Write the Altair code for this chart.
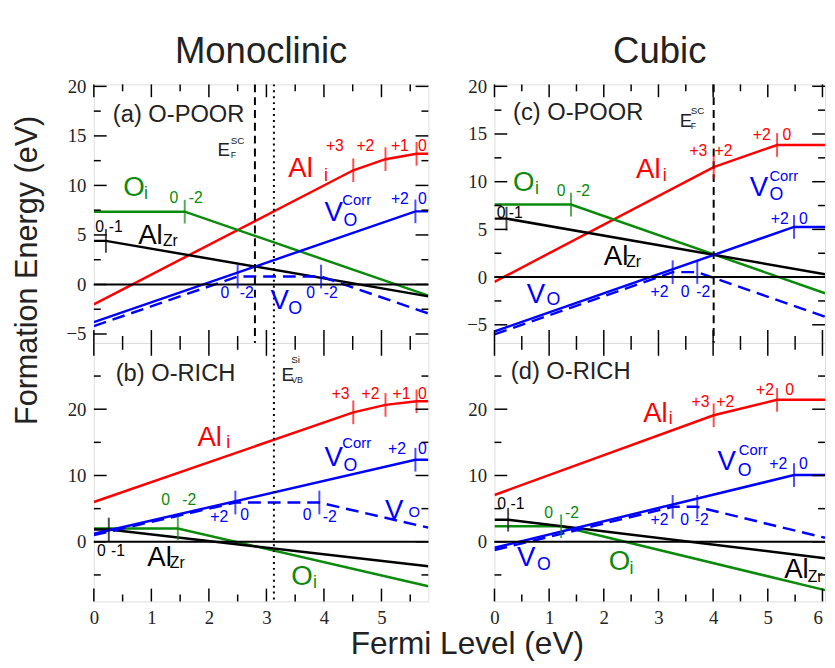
import altair as alt
import pandas as pd

SANS = "Liberation Sans"
SERIF = "Liberation Serif"
RED = "#ff0000"
GREEN = "#0b8a0b"
BLUE = "#0000ff"
BLK = "#000000"
TXT = "#222222"

XL = 5.815   # right end of monoclinic x range
XR = 6.047   # right end (visible) of cubic x range

# ---------------- Panel (a) Monoclinic, O-poor ----------------
a_ali_x = [0, 4.51, 5.07, 5.61, XL]
a_ali_y = [-2.0, 11.53, 12.65, 13.19, 13.19]
a_oi_x = [0, 1.58, XL]
a_oi_y = [7.35, 7.35, -1.12]
a_alzr_x = [0, 0.21, XL]
a_alzr_y = [4.4, 4.4, -1.2]
a_vc_x = [0, 5.59, XL]
a_vc_y = [-3.8, 7.38, 7.38]
a_vo_x = [0, 2.5, 3.95, XL]
a_vo_y = [-4.2, 0.8, 0.8, -2.93]

# ---------------- Panel (b) Monoclinic, O-rich ----------------
b_ali_x = [0, 4.51, 5.07, 5.61, XL]
b_ali_y = [6.0, 19.53, 20.65, 21.19, 21.19]
b_oi_x = [0, 1.46, XL]
b_oi_y = [2.0, 2.0, -6.71]
b_alzr_x = [0, 0.26, XL]
b_alzr_y = [1.85, 1.85, -3.7]
b_vc_x = [0, 5.59, XL]
b_vc_y = [1.2, 12.38, 12.38]
b_vo_x = [0, 2.46, 3.92, XL]
b_vo_y = [1.0, 5.92, 5.92, 2.13]

# ---------------- Panel (c) Cubic, O-poor ----------------
c_ali_x = [0, 4.01, 5.17, XR]
c_ali_y = [-0.5, 11.53, 13.85, 13.85]
c_oi_x = [0, 1.40, XR]
c_oi_y = [7.6, 7.6, -1.69]
c_alzr_x = [0, 0.22, XR]
c_alzr_y = [6.13, 6.13, 0.30]
c_vc_x = [0, 5.48, XR]
c_vc_y = [-5.7, 5.26, 5.26]
c_vo_x = [0, 3.26, 3.71, XR]
c_vo_y = [-6.0, 0.52, 0.52, -4.15]

# ---------------- Panel (d) Cubic, O-rich ----------------
d_ali_x = [0, 4.01, 5.17, XR]
d_ali_y = [7.06, 19.09, 21.41, 21.41]
d_oi_x = [0, 1.22, XR]
d_oi_y = [2.35, 2.35, -7.30]
d_alzr_x = [0, 0.25, XR]
d_alzr_y = [3.33, 3.33, -2.47]
d_vc_x = [0, 5.48, XR]
d_vc_y = [-0.9, 10.06, 10.06]
d_vo_x = [0, 3.26, 3.71, XR]
d_vo_y = [-1.25, 5.27, 5.27, 0.6]

# vertical reference lines: (x, kind)
a_vlines = [(2.8, "dash"), (3.13, "dot")]
b_vlines = [(3.13, "dot")]
c_vlines = [(4.01, "dash")]
d_vlines = []

# big labels: (text, x, y, fontsize, color)  -- left aligned, alphabetic baseline
a_big = [
    ("(a) O-POOR", 0.33, 16.4, 24, TXT),
    ("E", 2.15, 13.0, 19, TXT), ("SC", 2.38, 14.2, 10, TXT), ("F", 2.38, 12.8, 9, TXT),
    ("Al", 3.38, 10.9, 28, RED), ("i", 4.0, 10.4, 18, RED),
    ("O", 0.51, 8.9, 28, GREEN), ("i", 0.87, 8.6, 18, GREEN),
    ("Al", 0.77, 4.05, 28, BLK), ("Zr", 1.2, 3.85, 16, BLK),
    ("V", 4.01, 6.45, 28, BLUE), ("O", 4.34, 5.95, 18, BLUE), ("Corr", 4.32, 8.05, 15, BLUE),
    ("V", 3.07, -2.5, 28, BLUE), ("O", 3.38, -3.0, 18, BLUE),
]
b_big = [
    ("(b) O-RICH", 0.38, 24.3, 24, TXT),
    ("E", 3.26, 24.3, 19, TXT), ("Si", 3.43, 26.9, 10, TXT), ("VB", 3.43, 24.0, 9, TXT),
    ("Al", 1.80, 14.5, 28, RED), ("i", 2.30, 14.2, 18, RED),
    ("V", 4.01, 11.5, 28, BLUE), ("O", 4.34, 10.65, 18, BLUE), ("Corr", 4.32, 14.2, 15, BLUE),
    ("V", 5.06, 3.5, 28, BLUE), ("O", 5.47, 3.8, 15, BLUE),
    ("Al", 0.93, -3.6, 28, BLK), ("Zr", 1.32, -3.9, 16, BLK),
    ("O", 3.43, -6.5, 28, GREEN), ("i", 3.81, -6.9, 18, GREEN),
]
c_big = [
    ("(c) O-POOR", 0.34, 16.5, 24, TXT),
    ("E", 3.39, 15.75, 19, TXT), ("SC", 3.59, 17.1, 10, TXT), ("F", 3.59, 15.5, 9, TXT),
    ("Al", 2.59, 10.4, 28, RED), ("i", 3.08, 10.05, 18, RED),
    ("O", 0.34, 9.0, 28, GREEN), ("i", 0.74, 8.7, 18, GREEN),
    ("Al", 2.0, 1.27, 28, BLK), ("Zr", 2.41, 1.06, 16, BLK),
    ("V", 4.67, 8.5, 28, BLUE), ("O", 5.03, 8.1, 18, BLUE), ("Corr", 5.03, 10.05, 15, BLUE),
    ("V", 0.59, -2.76, 28, BLUE), ("O", 0.95, -2.97, 18, BLUE),
]
d_big = [
    ("(d) O-RICH", 0.30, 24.5, 24, TXT),
    ("Al", 2.72, 18.0, 28, RED), ("i", 3.19, 17.7, 18, RED),
    ("V", 4.08, 10.8, 28, BLUE), ("O", 4.45, 9.9, 18, BLUE), ("Corr", 4.47, 13.1, 15, BLUE),
    ("V", 0.41, -3.7, 28, BLUE), ("O", 0.78, -4.2, 18, BLUE),
    ("O", 2.09, -4.3, 28, GREEN), ("i", 2.47, -4.9, 18, GREEN),
    ("Al", 5.30, -5.5, 28, BLK), ("Zr", 5.73, -6.1, 16, BLK),
]

# charge-state labels: (text, x, y, color) -- centered
a_q = [
    ("+3", 4.19, 13.5, RED), ("+2", 4.72, 13.5, RED), ("+1", 5.32, 13.5, RED), ("0", 5.71, 13.5, RED),
    ("0", 1.39, 8.25, GREEN), ("-2", 1.77, 8.25, GREEN),
    ("0", 0.10, 5.26, BLK), ("-1", 0.38, 5.26, BLK),
    ("+2", 5.32, 8.08, BLUE), ("0", 5.71, 8.08, BLUE),
    ("0", 2.28, -1.38, BLUE), ("-2", 2.66, -1.38, BLUE), ("0", 3.77, -1.38, BLUE), ("-2", 4.12, -1.38, BLUE),
]
b_q = [
    ("+3", 4.29, 21.6, RED), ("+2", 4.81, 21.6, RED), ("+1", 5.35, 21.6, RED), ("0", 5.71, 21.6, RED),
    ("+2", 5.27, 13.2, BLUE), ("0", 5.71, 13.2, BLUE),
    ("0", 1.25, 5.5, GREEN), ("-2", 1.66, 5.5, GREEN),
    ("+2", 2.18, 3.0, BLUE), ("0", 2.62, 3.26, BLUE), ("0", 3.71, 3.26, BLUE), ("-2", 4.10, 3.0, BLUE),
    ("0", 0.13, -2.19, BLK), ("-1", 0.42, -2.19, BLK),
]
c_q = [
    ("+3", 3.73, 12.65, RED), ("+2", 4.19, 12.65, RED), ("+2", 4.89, 14.35, RED), ("0", 5.35, 14.35, RED),
    ("0", 1.22, 8.5, GREEN), ("-2", 1.62, 8.5, GREEN),
    ("0", 0.12, 6.2, BLK), ("-1", 0.39, 6.2, BLK),
    ("+2", 5.22, 5.55, BLUE), ("0", 5.65, 5.55, BLUE),
    ("+2", 3.02, -2.04, BLUE), ("0", 3.49, -2.04, BLUE), ("-2", 3.82, -2.04, BLUE),
]
d_q = [
    ("+3", 3.77, 20.3, RED), ("+2", 4.22, 20.3, RED), ("+2", 4.95, 22.1, RED), ("0", 5.40, 22.1, RED),
    ("+2", 5.19, 11.0, BLUE), ("0", 5.65, 11.0, BLUE),
    ("0", 0.13, 4.9, BLK), ("-1", 0.42, 4.9, BLK),
    ("0", 0.99, 3.65, GREEN), ("-2", 1.42, 3.65, GREEN),
    ("+2", 3.02, 2.6, BLUE), ("0", 3.48, 2.6, BLUE), ("-2", 3.79, 2.6, BLUE),
]

# axis tick values
top_y_major = [-5, 0, 5, 10, 15, 20]
top_y_minor = [-2.5, 2.5, 7.5, 12.5, 17.5]
bot_y_major = [0, 10, 20]
bot_y_minor = [-5, 5, 15, 25]
left_x_major = [0, 1, 2, 3, 4, 5]
left_x_minor = [0.5, 1.5, 2.5, 3.5, 4.5, 5.5]
right_x_major = [0, 1, 2, 3, 4, 5, 6]
right_x_minor = [0.5, 1.5, 2.5, 3.5, 4.5, 5.5]

WL, WR, H = 339, 335, 262


def lines_df(series):
    rows = []
    for name, xs, ys, col in series:
        for i, (x, y) in enumerate(zip(xs, ys)):
            rows.append(dict(s=name, x=x, y=y, c=col, o=i, inner=0 < i < len(xs) - 1))
    return pd.DataFrame(rows)


def make_panel(solid, dashed, vlines, big, q, xmax, ydom, w, ymaj, ymin, xmaj, xmin, yaxis, xaxis, title=None):
    xs = alt.Scale(domain=[0, xmax], nice=False, zero=False)
    ys = alt.Scale(domain=ydom, nice=False, zero=False)

    def X():
        return alt.X("x:Q", scale=xs, axis=xaxis)

    def Y():
        return alt.Y("y:Q", scale=ys, axis=yaxis)

    dsol = lines_df(solid)
    ddash = lines_df(dashed)
    layers = []
    layers.append(alt.Chart(dsol).mark_line(strokeWidth=2.5, clip=True).encode(
        x=X(), y=Y(), color=alt.Color("c:N", scale=None), detail="s:N", order="o:Q"))
    layers.append(alt.Chart(ddash).mark_line(strokeWidth=2.5, strokeDash=[13, 7], clip=True).encode(
        x=X(), y=Y(), color=alt.Color("c:N", scale=None), detail="s:N", order="o:Q"))
    # zero line
    layers.append(alt.Chart(pd.DataFrame({"y": [0]})).mark_rule(color=BLK, strokeWidth=2).encode(y=Y()))
    # vertical reference lines
    for vx, kind in vlines:
        dash = [8, 5] if kind == "dash" else [2, 4]
        layers.append(alt.Chart(pd.DataFrame({"x": [vx]})).mark_rule(
            color=BLK, strokeWidth=2, strokeDash=dash).encode(x=X()))
    # transition ticks
    tk = pd.concat([dsol[dsol.inner], ddash[ddash.inner]])
    layers.append(alt.Chart(tk).mark_tick(orient="vertical", size=24, thickness=2).encode(
        x=X(), y=Y(), color=alt.Color("c:N", scale=None)))
    # big labels
    dbig = pd.DataFrame(big, columns=["t", "x", "y", "fs", "c"])
    layers.append(alt.Chart(dbig).mark_text(align="left", baseline="alphabetic", font=SANS, clip=True).encode(
        x=X(), y=Y(), text="t:N", color=alt.Color("c:N", scale=None), size=alt.Size("fs:Q", scale=None)))
    dq = pd.DataFrame(q, columns=["t", "x", "y", "c"])
    layers.append(alt.Chart(dq).mark_text(align="center", baseline="alphabetic", font=SANS, fontSize=16, clip=True).encode(
        x=X(), y=Y(), text="t:N", color=alt.Color("c:N", scale=None)))
    # inward axis ticks
    for vals, ln in ((ymaj, 13), (ymin, 7)):
        d = pd.DataFrame({"y": vals})
        layers.append(alt.Chart(d).mark_rule(color=BLK, strokeWidth=1.5).encode(
            y=Y(), x=alt.value(0), x2=alt.value(ln)))
        layers.append(alt.Chart(d).mark_rule(color=BLK, strokeWidth=1.5).encode(
            y=Y(), x=alt.value(w), x2=alt.value(w - ln)))
    for vals, ln in ((xmaj, 13), (xmin, 7)):
        d = pd.DataFrame({"x": vals})
        layers.append(alt.Chart(d).mark_rule(color=BLK, strokeWidth=1.5).encode(
            x=X(), y=alt.value(H), y2=alt.value(H - ln)))
        layers.append(alt.Chart(d).mark_rule(color=BLK, strokeWidth=1.5).encode(
            x=X(), y=alt.value(0), y2=alt.value(ln)))
    if title is not None:
        layers.append(alt.Chart(pd.DataFrame({"t": [title]})).mark_text(
            font=SANS, fontSize=37, align="center", baseline="alphabetic", color=TXT).encode(
            text="t:N", x=alt.value(w / 2), y=alt.value(-22)))
    return alt.layer(*layers).properties(width=w, height=H)


def yax(vals, title=None):
    kw = dict(values=vals, labelFont=SERIF, labelFontSize=19, labelColor=TXT, labelPadding=8,
              ticks=False, domain=False, grid=False, title=None)
    if title:
        kw.update(title=title, titleFont=SANS, titleFontSize=31, titleFontWeight="normal", titleColor=TXT,
                  titleX=-58, titleY=188, titleAngle=270, titleBaseline="alphabetic", titleAlign="center")
    return alt.Axis(**kw)


def xax(vals, title=None):
    kw = dict(values=vals, labelFont=SERIF, labelFontSize=19, labelColor=TXT, labelPadding=7,
              labelFlush=False, ticks=False, domain=False, grid=False, title=None,
              labelAlign={"condition": {"test": "datum.value == 6", "value": "right"}, "value": "center"})
    if title:
        kw.update(title=title, titleFont=SANS, titleFontSize=32, titleFontWeight="normal", titleColor=TXT,
                  titleX=378, titleY=53, titleBaseline="alphabetic", titleAlign="center")
    return alt.Axis(**kw)


pa = make_panel(
    [("Ali", a_ali_x, a_ali_y, RED), ("Oi", a_oi_x, a_oi_y, GREEN), ("AlZr", a_alzr_x, a_alzr_y, BLK),
     ("VC", a_vc_x, a_vc_y, BLUE)],
    [("VO", a_vo_x, a_vo_y, BLUE)], a_vlines, a_big, a_q, XL, [-5.9, 20.2], WL,
    top_y_major, top_y_minor, left_x_major, left_x_minor,
    yax(top_y_major, "Formation Energy (eV)"), None, title="Monoclinic")
pb = make_panel(
    [("Ali", b_ali_x, b_ali_y, RED), ("Oi", b_oi_x, b_oi_y, GREEN), ("AlZr", b_alzr_x, b_alzr_y, BLK),
     ("VC", b_vc_x, b_vc_y, BLUE)],
    [("VO", b_vo_x, b_vo_y, BLUE)], b_vlines, b_big, b_q, XL, [-9, 30], WL,
    bot_y_major, bot_y_minor, left_x_major, left_x_minor,
    yax(bot_y_major), xax(left_x_major, "Fermi Level (eV)"))
pc = make_panel(
    [("Ali", c_ali_x, c_ali_y, RED), ("Oi", c_oi_x, c_oi_y, GREEN), ("AlZr", c_alzr_x, c_alzr_y, BLK),
     ("VC", c_vc_x, c_vc_y, BLUE)],
    [("VO", c_vo_x, c_vo_y, BLUE)], c_vlines, c_big, c_q, XR, [-6.9, 20.2], WR,
    top_y_major, top_y_minor, right_x_major, right_x_minor,
    yax(top_y_major), None, title="Cubic")
pd_ = make_panel(
    [("Ali", d_ali_x, d_ali_y, RED), ("Oi", d_oi_x, d_oi_y, GREEN), ("AlZr", d_alzr_x, d_alzr_y, BLK),
     ("VC", d_vc_x, d_vc_y, BLUE)],
    [("VO", d_vo_x, d_vo_y, BLUE)], d_vlines, d_big, d_q, XR, [-9, 30], WR,
    bot_y_major, bot_y_minor, right_x_major, right_x_minor,
    yax(bot_y_major), xax(right_x_major))

chart = alt.concat(pa, pc, pb, pd_, columns=2, spacing={"row": 0, "column": 67}, bounds="flush").properties(
    padding={"left": 3, "top": 20, "right": 0, "bottom": 0}
).configure_view(stroke=BLK, strokeWidth=2).configure(background="white")

chart.save("out.html", embed_options={"renderer": "svg", "actions": False})
